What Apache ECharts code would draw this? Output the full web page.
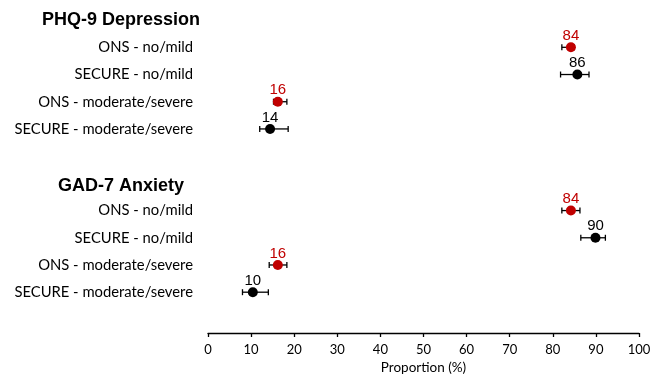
<!DOCTYPE html>
<html>
<head>
<meta charset="utf-8">
<script src="https://cdn.jsdelivr.net/npm/echarts@6/dist/echarts.min.js"></script>
<style>html,body{margin:0;padding:0;background:#fff;}#main{width:651px;height:376px;}</style>
</head>
<body>
<div id="main"></div>
<script>
// Rows (top to bottom); blank strings are title/gap rows
const categories = ['', 'ONS - no/mild', 'SECURE - no/mild', 'ONS - moderate/severe', 'SECURE - moderate/severe', '', '',
  'ONS - no/mild', 'SECURE - no/mild', 'ONS - moderate/severe', 'SECURE - moderate/severe', ''];
const panelTitles = ['PHQ-9 Depression', 'GAD-7 Anxiety'];
const panelTitleRows = [0, 6];

const onsRows = [1, 3, 7, 9];
const onsValues = [84.2, 16.2, 84.2, 16.2];
const onsLow = [82.1, 15.2, 82.1, 14.2];
const onsHigh = [85.0, 18.3, 86.3, 18.3];
const onsLabels = ['84', '16', '84', '16'];

const secureRows = [2, 4, 8, 10];
const secureValues = [85.7, 14.4, 89.9, 10.4];
const secureLow = [81.8, 12.0, 86.5, 8.0];
const secureHigh = [88.4, 18.6, 92.2, 14.0];
const secureLabels = ['86', '14', '90', '10'];

const xTicks = [0, 10, 20, 30, 40, 50, 60, 70, 80, 90, 100];

const chart = echarts.init(document.getElementById('main'), null, {renderer: 'canvas'});

function errData(rows, low, high) {
  return rows.map((r, i) => [low[i], high[i], r]);
}
function errSeries(rows, low, high) {
  return {
    type: 'custom',
    z: 2,
    data: errData(rows, low, high),
    encode: {x: [0, 1], y: 2},
    renderItem: function (params, api) {
      const r = api.value(2);
      const a = api.coord([api.value(0), r]);
      const b = api.coord([api.value(1), r]);
      const h = 3;
      const st = {stroke: '#000', lineWidth: 1.3};
      return {
        type: 'group',
        children: [
          {type: 'line', shape: {x1: a[0], y1: a[1], x2: b[0], y2: b[1]}, style: st},
          {type: 'line', shape: {x1: a[0], y1: a[1] - h, x2: a[0], y2: a[1] + h}, style: st},
          {type: 'line', shape: {x1: b[0], y1: b[1] - h, x2: b[0], y2: b[1] + h}, style: st}
        ]
      };
    }
  };
}
function pointSeries(rows, vals, labels, color) {
  return {
    type: 'scatter',
    z: 3,
    symbol: 'circle',
    symbolSize: 10,
    itemStyle: {color: color, opacity: 1},
    emphasis: {disabled: true},
    data: rows.map((r, i) => ({value: [vals[i], r], labelText: labels[i]})),
    label: {
      show: true,
      position: 'top',
      distance: 0,
      offset: [0, 1],
      color: color,
      opacity: 1,
      fontFamily: 'Liberation Sans',
      fontSize: 15,
      formatter: p => p.data.labelText
    }
  };
}

const option = {
  animation: false,
  backgroundColor: '#fff',
  grid: {left: 208, right: 12, top: 6.5, bottom: 43, containLabel: false, outerBoundsMode: 'none'},
  xAxis: {
    type: 'value',
    min: 0, max: 100, interval: 10,
    name: 'Proportion (%)',
    nameLocation: 'middle',
    nameGap: 28,
    nameTextStyle: {fontFamily: 'Lato', fontSize: 13.5, color: '#000'},
    axisLine: {show: true, lineStyle: {color: '#000', width: 1.3}},
    axisTick: {show: true, length: 4, lineStyle: {color: '#000', width: 1.3}},
    axisLabel: {fontFamily: 'Lato', fontSize: 13, color: '#000', margin: 10,
      formatter: v => xTicks.includes(v) ? String(v) : ''},
    splitLine: {show: false}
  },
  yAxis: {
    type: 'category',
    inverse: true,
    data: categories,
    axisLine: {show: false},
    axisTick: {show: false},
    axisLabel: {fontFamily: 'Lato', fontSize: 14.8, color: '#000', margin: 15, interval: 0},
    splitLine: {show: false}
  },
  graphic: panelTitles.map((t, i) => ({
    type: 'text',
    x: 121,
    y: panelTitleRows[i] === 0 ? 20 : 186,
    style: {text: t, fontFamily: 'Liberation Sans', fontWeight: 'bold', fontSize: 18, fill: '#000',
      textAlign: 'center', textVerticalAlign: 'middle'}
  })),
  series: [
    errSeries(onsRows, onsLow, onsHigh),
    errSeries(secureRows, secureLow, secureHigh),
    pointSeries(onsRows, onsValues, onsLabels, '#c00000'),
    pointSeries(secureRows, secureValues, secureLabels, '#000000')
  ]
};
chart.setOption(option);
</script>
</body>
</html>
